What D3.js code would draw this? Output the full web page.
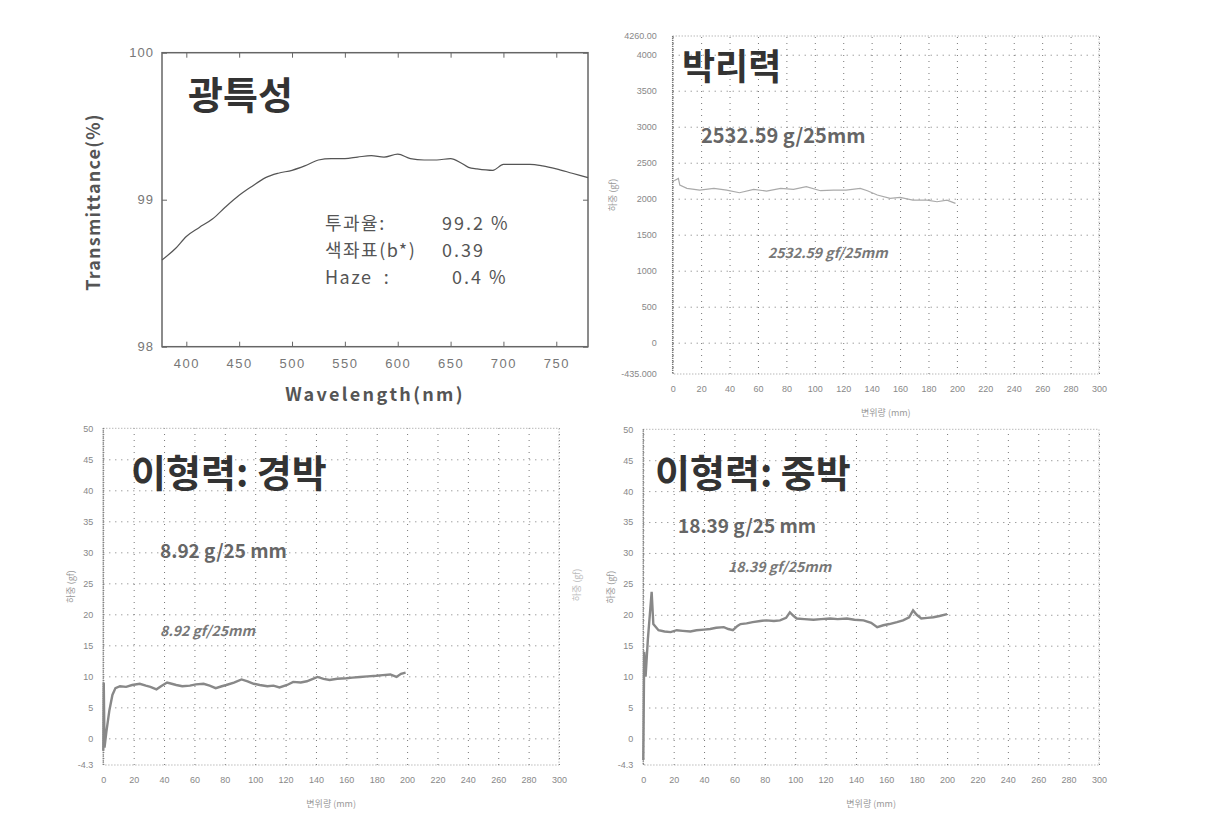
<!DOCTYPE html>
<html><head><meta charset="utf-8">
<script src="https://cdn.jsdelivr.net/npm/d3@7"></script>
<style>
html,body{margin:0;padding:0;background:#fff;}
svg{display:block;font-family:"Noto Sans CJK KR","Noto Sans",sans-serif;}
</style></head>
<body>
<svg id="c" width="1206" height="827"></svg>
<script>
// ---------- DATA ----------
// Panel 1: 광특성 (transmittance spectrum)
const wavelength = [377,390,400,412,425,437,450,462,475,487,500,512,525,537,550,562,575,587,600,612,625,637,650,660,667,675,690,700,712,725,737,750,765,780];
const transmittance = [98.59,98.67,98.75,98.81,98.87,98.95,99.03,99.09,99.15,99.18,99.20,99.23,99.27,99.28,99.28,99.29,99.30,99.29,99.31,99.28,99.27,99.27,99.28,99.25,99.22,99.21,99.20,99.24,99.24,99.24,99.23,99.21,99.18,99.15];
const wlTicks = [400,450,500,550,600,650,700,750];
const tTicks = [98,99,100];
const tTickLabels = ["98","99","100"];

// Panel 2: 박리력
const peelX = [1,4,5,10,19,29,38,47,57,66,76,85,94,104,113,122,132,137,144,153,160,169,179,186,193,199];
const peelY = [2250,2282,2190,2144,2120,2144,2120,2083,2130,2106,2144,2130,2167,2111,2120,2120,2144,2111,2051,2005,2019,1981,1981,1958,1981,1935];
const peelYTicks = [-435,0,500,1000,1500,2000,2500,3000,3500,4000,4260];
const peelYLabels = ["-435.000","0","500","1000","1500","2000","2500","3000","3500","4000","4260.00"];

// Panel 3: 이형력 경박
const lightX = [0,0.3,0.8,2,4,6,8,11,15,19,24,28,31,35,38,42,45,48,52,57,61,66,70,74,78,81,86,91,95,99,103,108,112,116,121,125,130,134,138,141,145,149,154,160,164,169,174,180,184,189,193,196,199];
const lightY = [-2,9,-1.5,1,4.5,7,8.1,8.4,8.3,8.6,8.8,8.5,8.3,7.9,8.4,9.0,8.8,8.6,8.4,8.5,8.7,8.8,8.5,8.1,8.4,8.6,9.0,9.5,9.2,8.8,8.6,8.4,8.5,8.2,8.6,9.1,9.0,9.2,9.6,9.9,9.6,9.4,9.6,9.7,9.8,9.9,10.0,10.1,10.2,10.3,9.9,10.4,10.6];

// Panel 4: 이형력 중박
const heavyX = [0,0.6,1.5,3,5.5,6.6,10,14,18,22,26,31,35,40,44,48,53,56,59,62,64,68,72,77,81,86,90,94,96.5,99,101,106,112,117,123,128,134,139,145,150,154,158,162,167,171,175,177.6,180,183,187,191,195,200];
const heavyY = [-3.5,14,10,16,23.7,18.5,17.5,17.3,17.2,17.5,17.4,17.3,17.5,17.6,17.7,17.9,18.0,17.7,17.5,18.2,18.5,18.6,18.8,19.0,19.1,19.0,19.1,19.5,20.4,19.8,19.4,19.3,19.2,19.3,19.4,19.3,19.4,19.2,19.1,18.7,18.0,18.3,18.5,18.8,19.1,19.6,20.7,20.0,19.4,19.5,19.6,19.8,20.1];
const relYTicks = [-4.3,0,5,10,15,20,25,30,35,40,45,50];
const relYLabels = ["-4.3","0","5","10","15","20","25","30","35","40","45","50"];

const strokeTicks = [0,20,40,60,80,100,120,140,160,180,200,220,240,260,280,300];
const strokeTitle = "변위량 (mm)";
const forceTitle = "하중 (gf)";

// ---------- DRAW ----------
const svg = d3.select("#c");

// ===== Panel 1 =====
(function(){
  const x = d3.scaleLinear().domain([377,780]).range([162,588]);
  const y = d3.scaleLinear().domain([98,100]).range([346.7,52.7]);
  const g = svg.append("g");
  const ax = g.append("g").attr("transform","translate(0,346.7)")
    .call(d3.axisBottom(x).tickValues(wlTicks).tickSizeInner(-5).tickSizeOuter(0).tickPadding(12));
  ax.select(".domain").remove();
  ax.selectAll("line").attr("stroke","#666");
  ax.selectAll("text").attr("font-size",13).attr("fill","#777").attr("letter-spacing","1.5px");
  const axt = g.append("g").attr("transform","translate(0,52.7)")
    .call(d3.axisTop(x).tickValues(wlTicks).tickSizeInner(-5).tickSizeOuter(0).tickFormat(""));
  axt.select(".domain").remove(); axt.selectAll("line").attr("stroke","#666");
  const ay = g.append("g").attr("transform","translate(162,0)")
    .call(d3.axisLeft(y).tickValues(tTicks).tickFormat((d,i)=>tTickLabels[i]).tickSizeInner(-5).tickSizeOuter(0).tickPadding(8));
  ay.select(".domain").remove();
  ay.selectAll("line").attr("stroke","#666");
  ay.selectAll("text").attr("font-size",13).attr("fill","#777").attr("letter-spacing","1px");
  const ayr = g.append("g").attr("transform","translate(588,0)")
    .call(d3.axisRight(y).tickValues(tTicks).tickSizeInner(-5).tickSizeOuter(0).tickFormat(""));
  ayr.select(".domain").remove(); ayr.selectAll("line").attr("stroke","#666");
  g.append("rect").attr("x",162).attr("y",52.7).attr("width",426).attr("height",294)
    .attr("fill","none").attr("stroke","#666").attr("stroke-width",1.5);
  const line = d3.line().x((d,i)=>x(wavelength[i])).y(d=>y(d)).curve(d3.curveMonotoneX);
  g.append("path").datum(transmittance).attr("d",line).attr("fill","none").attr("stroke","#555").attr("stroke-width",1.2);
  g.append("text").attr("x",188).attr("y",109).attr("font-size",38).attr("font-weight","bold").attr("fill","#333").text("광특성");
  g.append("text").attr("x",375).attr("y",401).attr("text-anchor","middle").attr("font-size",18).attr("font-weight","bold")
    .attr("letter-spacing","2.3px").attr("fill","#555").text("Wavelength(nm)");
  g.append("text").attr("transform","translate(100,202) rotate(-90)").attr("text-anchor","middle").attr("font-size",18)
    .attr("font-weight","bold").attr("letter-spacing","1.2px").attr("fill","#555").text("Transmittance(%)");
  const ann = [["투과율:","99.2 %",230,442],["색좌표(b*)","0.39",257,442],["Haze  :","0.4 %",284,452]];
  ann.forEach(a=>{
    g.append("text").attr("x",325).attr("y",a[2]).attr("font-size",18).attr("fill","#555").attr("letter-spacing","1.5px").attr("xml:space","preserve").text(a[0]);
    g.append("text").attr("x",a[3]).attr("y",a[2]).attr("font-size",18).attr("fill","#555").attr("letter-spacing","2px").text(a[1]);
  });
})();

// ===== dotted panels =====
function dottedPanel(o){
  const x = d3.scaleLinear().domain([0,300]).range([o.x0,o.x1]);
  const y = d3.scaleLinear().domain(o.ydom).range([o.y1,o.y0]);
  const g = svg.append("g");
  const gx = g.append("g").attr("transform",`translate(0,${o.y1})`)
    .call(d3.axisBottom(x).tickValues(strokeTicks).tickSize(-(o.y1-o.y0)).tickFormat(""));
  gx.select(".domain").remove();
  gx.selectAll("line").attr("stroke","#777").attr("stroke-dasharray","1,5");
  const gy = g.append("g").attr("transform",`translate(${o.x0},0)`)
    .call(d3.axisLeft(y).tickValues(o.yticks.slice(1,-1)).tickSize(-(o.x1-o.x0)).tickFormat(""));
  gy.select(".domain").remove();
  gy.selectAll("line").attr("stroke","#777").attr("stroke-dasharray","1,5");
  g.append("rect").attr("x",o.x0).attr("y",o.y0).attr("width",o.x1-o.x0).attr("height",o.y1-o.y0)
    .attr("fill","none").attr("stroke","#999").attr("stroke-dasharray","1,2");
  g.append("line").attr("x1",o.x0).attr("x2",o.x0).attr("y1",o.y0).attr("y2",o.y1)
    .attr("stroke","#777").attr("stroke-width",1.5).attr("stroke-dasharray","1,1");
  const lx = g.append("g").attr("transform",`translate(0,${o.y1})`)
    .call(d3.axisBottom(x).tickValues(strokeTicks).tickSize(0).tickPadding(12));
  lx.select(".domain").remove();
  lx.selectAll("text").attr("font-size",9).attr("fill","#888");
  const ly = g.append("g").attr("transform",`translate(${o.x0},0)`)
    .call(d3.axisLeft(y).tickValues(o.yticks).tickFormat((d,i)=>o.ylabels[i]).tickSize(0).tickPadding(o.pad));
  ly.select(".domain").remove();
  ly.selectAll("text").attr("font-size",9).attr("fill","#888");
  g.append("text").attr("x",(o.x0+o.x1)/2).attr("y",o.y1+42).attr("text-anchor","middle")
    .attr("font-size",9).attr("fill","#999").text(strokeTitle);
  g.append("text").attr("transform",`translate(${o.tx},${(o.y0+o.y1)/2-10}) rotate(-90)`).attr("text-anchor","middle")
    .attr("font-size",9).attr("fill","#999").text(forceTitle);
  const line = d3.line().x((d,i)=>x(o.xs[i])).y(d=>y(d));
  g.append("path").datum(o.ys).attr("d",line).attr("fill","none").attr("stroke",o.lc).attr("stroke-width",o.lw);
  g.append("text").attr("x",o.t1[0]).attr("y",o.t1[1]).attr("font-size",o.t1[3]).attr("font-weight","bold").attr("fill","#333").text(o.t1[2]);
  g.append("text").attr("x",o.t2[0]).attr("y",o.t2[1]).attr("font-size",o.t2[3]).attr("font-weight","bold").attr("fill","#666").text(o.t2[2]);
  g.append("text").attr("x",o.t3[0]).attr("y",o.t3[1]).attr("font-size",o.t3[3]).attr("font-weight","bold").attr("font-style","italic").attr("fill","#777").text(o.t3[2]);
}

dottedPanel({x0:672.7,x1:1099,y0:36,y1:374,ydom:[-435,4260],yticks:peelYTicks,ylabels:peelYLabels,pad:16,tx:616,
  xs:peelX,ys:peelY,lc:"#aaa",lw:1.2,
  t1:[682,80,"박리력",36],t2:[701,143,"2532.59 g/25mm",20],t3:[768,258,"2532.59 gf/25mm",14]});

dottedPanel({x0:103.3,x1:559,y0:428.3,y1:765,ydom:[-4.3,50],yticks:relYTicks,ylabels:relYLabels,pad:10,tx:74,
  xs:lightX,ys:lightY,lc:"#888",lw:2.4,
  t1:[131,487,"이형력: 경박",38],t2:[160,558,"8.92 g/25 mm",19],t3:[160,636,"8.92 gf/25mm",14]});

dottedPanel({x0:643.3,x1:1099,y0:429.3,y1:765,ydom:[-4.3,50],yticks:relYTicks,ylabels:relYLabels,pad:10,tx:614,
  xs:heavyX,ys:heavyY,lc:"#888",lw:2.4,
  t1:[655,487,"이형력: 중박",38],t2:[678,533,"18.39 g/25 mm",19],t3:[728,572,"18.39 gf/25mm",14]});

svg.append("text").attr("transform","translate(580,585) rotate(-90)").attr("text-anchor","middle")
  .attr("font-size",9).attr("fill","#bbb").text(forceTitle);
</script>
</body></html>
